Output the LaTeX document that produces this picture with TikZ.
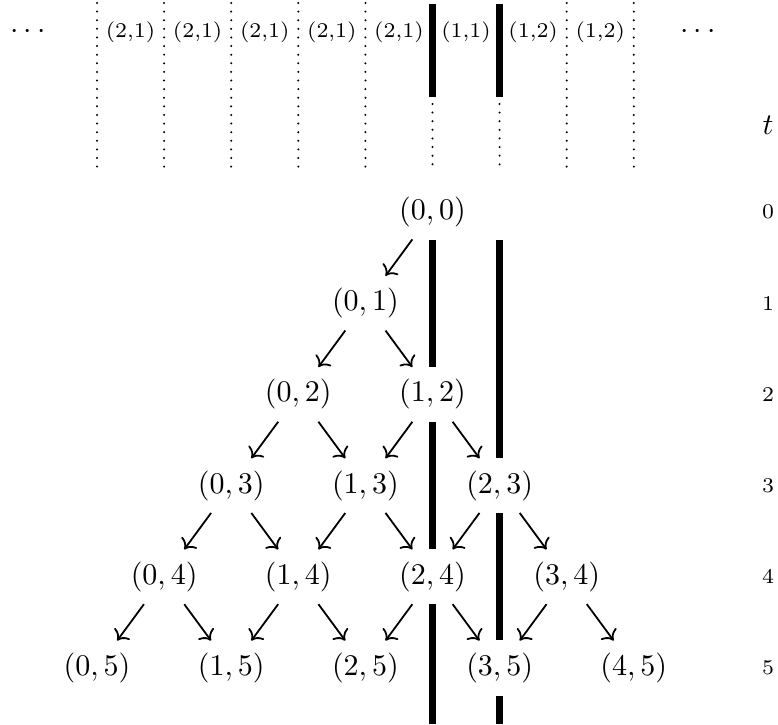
\documentclass[tikz,border=0pt]{standalone}
\usetikzlibrary{calc,arrows.meta}
\begin{document}
\begin{tikzpicture}[x=0.3333pt,y=-0.3333pt,
  big/.style={font=\normalsize, inner sep=0pt, minimum height=18pt},
  small/.style={font=\scriptsize, inner sep=0pt},
  tlab/.style={font=\scriptsize, inner sep=0pt},
  dotline/.style={line width=0.75pt, line cap=round, dash pattern=on 0pt off 2.87pt},
  wall/.style={line width=2.4pt},
  arr/.style={-{Computer Modern Rightarrow[scale=1.05]}, line width=0.6pt}]
\useasboundingbox (0,0) rectangle (778,724);
% top strip
\foreach \j in {0,1,2,3,4,7,8} {
  \draw[dotline] ({97+67.1*\j},3) -- ({97+67.1*\j},170);
}
\foreach \j in {5,6} {
  \draw[wall] ({97+67.1*\j},4) -- ({97+67.1*\j},97);
  \draw[dotline] ({97+67.1*\j},104) -- ({97+67.1*\j},170);
}
\foreach \j in {0,...,4} {
  \node[small] (s\j) at ({97+67.1*(\j+0.5)},32) {(2,1)};
}
\node[small] (s5) at ({97+67.1*5.5},32) {(1,1)};
\node[small] (s6) at ({97+67.1*6.5},32) {(1,2)};
\node[small] (s7) at ({97+67.1*7.5},32) {(1,2)};
\node (dl) at (28,32) {$\cdots$};
\node (dr) at (698,32) {$\cdots$};
\node (tt) at (768,125) {$t$};
% tree nodes
\node[big] (n00) at ({97+67.1*5},212) {$(0,0)$};
\foreach \t in {0,...,5} {
  \node[tlab] (time\t) at (768,{212+91.2*\t}) {\t};
}
\foreach \t in {1,...,5} {
  \pgfmathtruncatemacro\km{\t-1}
  \foreach \k in {0,...,\km} {
    \node[big] (n\k\t) at ({97+67.1*(5+2*\k-\t)},{212+91.2*\t}) {$(\k,\t)$};
  }
}
% arrows
\draw[arr] ($(n00)!0.3!(n01)$) -- ($(n00)!0.7!(n01)$);
\foreach \t in {1,...,4} {
  \pgfmathtruncatemacro\tn{\t+1}
  \pgfmathtruncatemacro\km{\t-1}
  \foreach \k in {0,...,\km} {
    \pgfmathtruncatemacro\kn{\k+1}
    \draw[arr] ($(n\k\t)!0.3!(n\k\tn)$) -- ($(n\k\t)!0.7!(n\k\tn)$);
    \draw[arr] ($(n\k\t)!0.3!(n\kn\tn)$) -- ($(n\k\t)!0.7!(n\kn\tn)$);
  }
}
% walls
\coordinate (lbot) at (n24 |- 0,724);
\coordinate (rtop) at (n23 |- n00.south);
\coordinate (rbot) at (n35 |- 0,724);
\draw[wall] (n00.south) -- (n12.north);
\draw[wall] (n12.south) -- (n24.north);
\draw[wall] (n24.south) -- (lbot);
\draw[wall] (rtop) -- (n23.north);
\draw[wall] (n23.south) -- (n35.north);
\draw[wall] (n35.south) -- (rbot);
\end{tikzpicture}
\end{document}
